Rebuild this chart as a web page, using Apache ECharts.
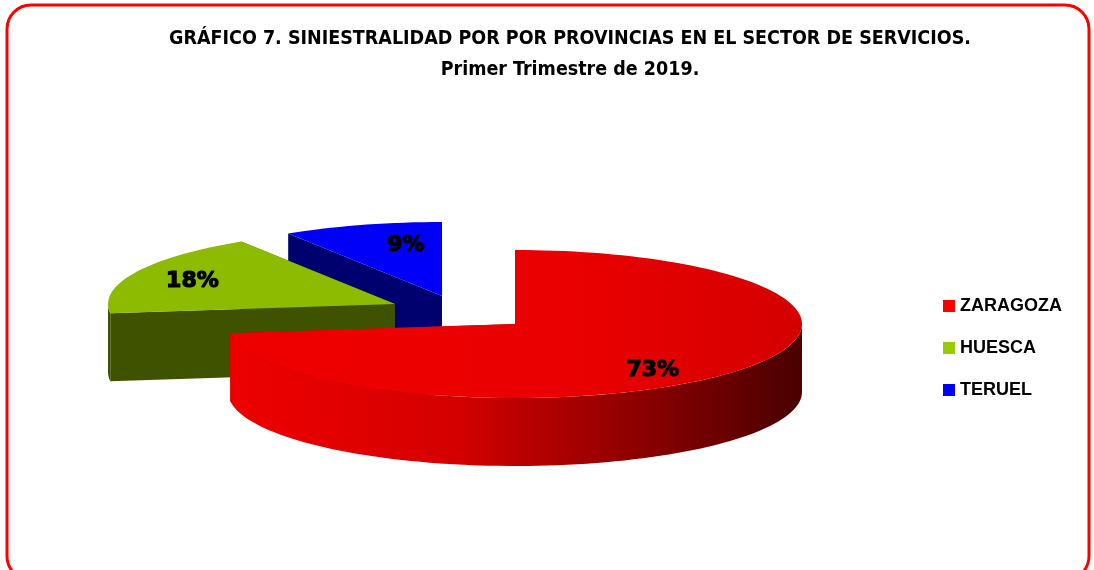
<!DOCTYPE html>
<html>
<head>
<meta charset="utf-8">
<script src="https://cdn.jsdelivr.net/npm/echarts@6/dist/echarts.min.js"></script>
<style>
  html, body { margin: 0; padding: 0; background: #fff; }
  #chart { width: 1094px; height: 570px; }
</style>
</head>
<body>
<div id="chart"></div>
<script>
// datos
var provincias = ['ZARAGOZA', 'HUESCA', 'TERUEL'];
var porcentajes = [73, 18, 9];
var etiquetas = ['73%', '18%', '9%'];

// colores: cara superior / lateral
var colorTop = ['#ee0000', '#8dbb00', '#0000f8'];
var colorLado = ['#b00000', '#3e5200', '#00006e'];
var colorLeyenda = ['#ff0000', '#99cc00', '#0000ff'];

// pseudo 3D: elipse, grosor y desplazamiento de cada porcion
var CX = 515, CY = 324, RX = 287, RY = 74, DEPTH = 68;
var explode = [[0, 0], [-120, -20], [-73, -28]];
// posicion de las etiquetas (fraccion del radio, ajuste vertical)
var labelF = [0.64, 0.78, 0.45];
var labelDy = [15, 2, -19];

var chart = echarts.init(document.getElementById('chart'));

var total = porcentajes.reduce(function (a, b) { return a + b; }, 0);

function pt(ang, f, off, dz) {
  var r = ang * Math.PI / 180;
  return [CX + off[0] + RX * f * Math.sin(r), CY + off[1] - RY * f * Math.cos(r) + (dz || 0)];
}

function arcPts(a, b, off, dz) {
  var pts = [];
  var n = Math.max(2, Math.ceil((b - a) / 2));
  for (var k = 0; k <= n; k++) pts.push(pt(a + (b - a) * k / n, 1, off, dz));
  return pts;
}

function makeRender(i) {
  return function (params, api) {
    var antes = 0;
    for (var j = 0; j < i; j++) antes += porcentajes[j];
    var a = antes / total * 360;
    var b = a + api.value(0) / total * 360;
    var off = explode[i];
    var c0 = pt(0, 0, off), c1 = pt(0, 0, off, DEPTH);
    var children = [];

    // caras radiales
    [a, b].forEach(function (ang) {
      var p0 = pt(ang, 1, off), p1 = pt(ang, 1, off, DEPTH);
      children.push({
        type: 'polygon',
        shape: { points: [c0, p0, p1, c1] },
        style: { fill: colorLado[i] }
      });
    });

    // lateral curvo (solo la parte delantera)
    var s = Math.max(a, 90), e = Math.min(b, 270);
    if (e > s) {
      var top = arcPts(s, e, off, 0);
      var bot = arcPts(s, e, off, DEPTH).reverse();
      var fill = colorLado[i];
      if (i === 0) {
        fill = new echarts.graphic.LinearGradient(CX - RX, 0, CX + RX, 0, [
          { offset: 0, color: '#ee0000' },
          { offset: 0.4, color: '#d40000' },
          { offset: 0.7, color: '#900000' },
          { offset: 1, color: '#4a0000' }
        ], true);
      }
      children.push({
        type: 'polygon',
        shape: { points: top.concat(bot) },
        style: { fill: fill }
      });
    }

    // cara superior
    var cara = [c0].concat(arcPts(a, b, off, 0));
    var fillTop = colorTop[i];
    if (i === 0) {
      fillTop = new echarts.graphic.LinearGradient(CX - RX, 0, CX + RX, 0, [
        { offset: 0, color: '#f00000' },
        { offset: 0.6, color: '#ea0000' },
        { offset: 1, color: '#d40000' }
      ], true);
    }
    children.push({
      type: 'polygon',
      shape: { points: cara },
      style: { fill: fillTop }
    });

    // etiqueta
    var lp = pt((a + b) / 2, labelF[i], off, labelDy[i]);
    children.push({
      type: 'text',
      x: lp[0], y: lp[1],
      style: {
        text: etiquetas[i],
        align: 'center', verticalAlign: 'middle',
        fill: '#000',
        stroke: '#000',
        lineWidth: 1.2,
        font: 'bold 22px "DejaVu Sans", sans-serif'
      }
    });

    return { type: 'group', children: children };
  };
}

var series = provincias.map(function (nombre, i) {
  return {
    type: 'custom',
    name: nombre,
    coordinateSystem: 'none',
    z: 10 - i,
    itemStyle: { color: colorLeyenda[i] },
    renderItem: makeRender(i),
    data: [[porcentajes[i]]]
  };
});

var option = {
  backgroundColor: '#fff',
  animation: false,
  title: {
    text: 'GRÁFICO 7. SINIESTRALIDAD POR POR PROVINCIAS EN EL SECTOR DE SERVICIOS.\nPrimer Trimestre de 2019.',
    left: 565,
    top: 18,
    textAlign: 'center',
    textStyle: {
      fontFamily: '"Liberation Sans Narrow", "DejaVu Sans Condensed", "Liberation Sans", sans-serif',
      fontWeight: 'bold',
      fontSize: 19.5,
      lineHeight: 31,
      color: '#000'
    }
  },
  legend: {
    data: provincias,
    orient: 'vertical',
    left: 938,
    top: 292,
    icon: 'rect',
    itemWidth: 12,
    itemHeight: 12,
    itemGap: 24,
    textStyle: {
      fontFamily: '"Liberation Sans", Arial, sans-serif',
      fontWeight: 'bold',
      fontSize: 18,
      color: '#000',
      padding: [0, 0, 0, 0]
    }
  },
  graphic: [{
    type: 'rect',
    shape: { x: 7, y: 5, width: 1082, height: 575, r: 24 },
    style: { fill: 'none', stroke: '#ff0000', lineWidth: 3 },
    silent: true,
    z: 100
  }],
  series: series
};

chart.setOption(option);
</script>
</body>
</html>
